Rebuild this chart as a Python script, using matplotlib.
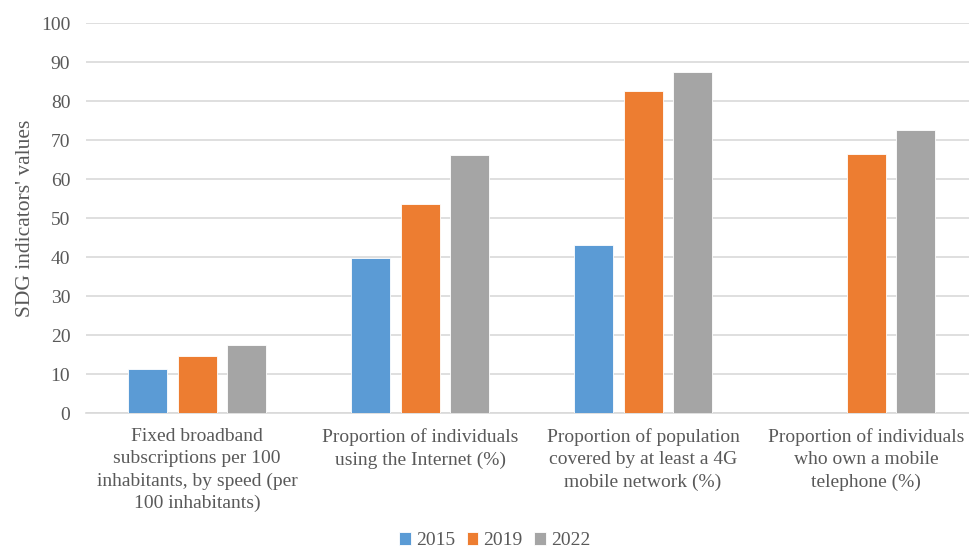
import matplotlib
matplotlib.use("Agg")
import matplotlib.pyplot as plt
import numpy as np

categories = [
    "Fixed broadband\nsubscriptions per 100\ninhabitants, by speed (per\n100 inhabitants)",
    "Proportion of individuals\nusing the Internet (%)",
    "Proportion of population\ncovered by at least a 4G\nmobile network (%)",
    "Proportion of individuals\nwho own a mobile\ntelephone (%)",
]
years = ["2015", "2019", "2022"]
v2015 = [11.3, 39.9, 43.2, np.nan]
v2019 = [14.6, 53.6, 82.7, 66.5]
v2022 = [17.4, 66.2, 87.5, 72.6]
colors = ["#5b9bd5", "#ed7d31", "#a5a5a5"]

plt.rcParams['font.family'] = ['Liberation Serif', 'DejaVu Serif']
txt = "#595959"

fig = plt.figure(figsize=(9.7, 5.53), dpi=100)
ax = fig.add_axes([0.0882, 0.253, 0.9196, 0.705])

x = np.arange(len(categories))
w = 0.175
step = 0.222
for i, (vals, yr) in enumerate(zip([v2015, v2019, v2022], years)):
    ax.bar(x + (i - 1) * step, vals, w, color=colors[i], label=yr,
           edgecolor="white", linewidth=0.6, zorder=3)

ax.set_xlim(-0.5, 3.5)
ax.set_ylim(0, 100)
ax.set_yticks(range(0, 101, 10))
ax.yaxis.grid(True, color="#d9d9d9", linewidth=1.2, zorder=0)
for s in ["top", "right", "left"]:
    ax.spines[s].set_visible(False)
ax.spines["bottom"].set_color("#d9d9d9")
ax.spines["bottom"].set_linewidth(1.2)
ax.tick_params(axis="both", length=0, labelsize=14, colors=txt)
ax.tick_params(axis="x", pad=11)
ax.tick_params(axis="y", pad=11)
ax.set_xticks(x)
ax.set_xticklabels(categories, linespacing=1.38, va="top")
ax.set_ylabel("SDG indicators' values", fontsize=15.5, color=txt, labelpad=4)

leg = fig.legend(loc="lower center", bbox_to_anchor=(0.51, -0.025), ncol=3,
                 frameon=False, fontsize=14, handlelength=0.6, handleheight=0.6,
                 handletextpad=0.25, columnspacing=0.6)
for t in leg.get_texts():
    t.set_color(txt)

fig.savefig("out.png", dpi=100)
